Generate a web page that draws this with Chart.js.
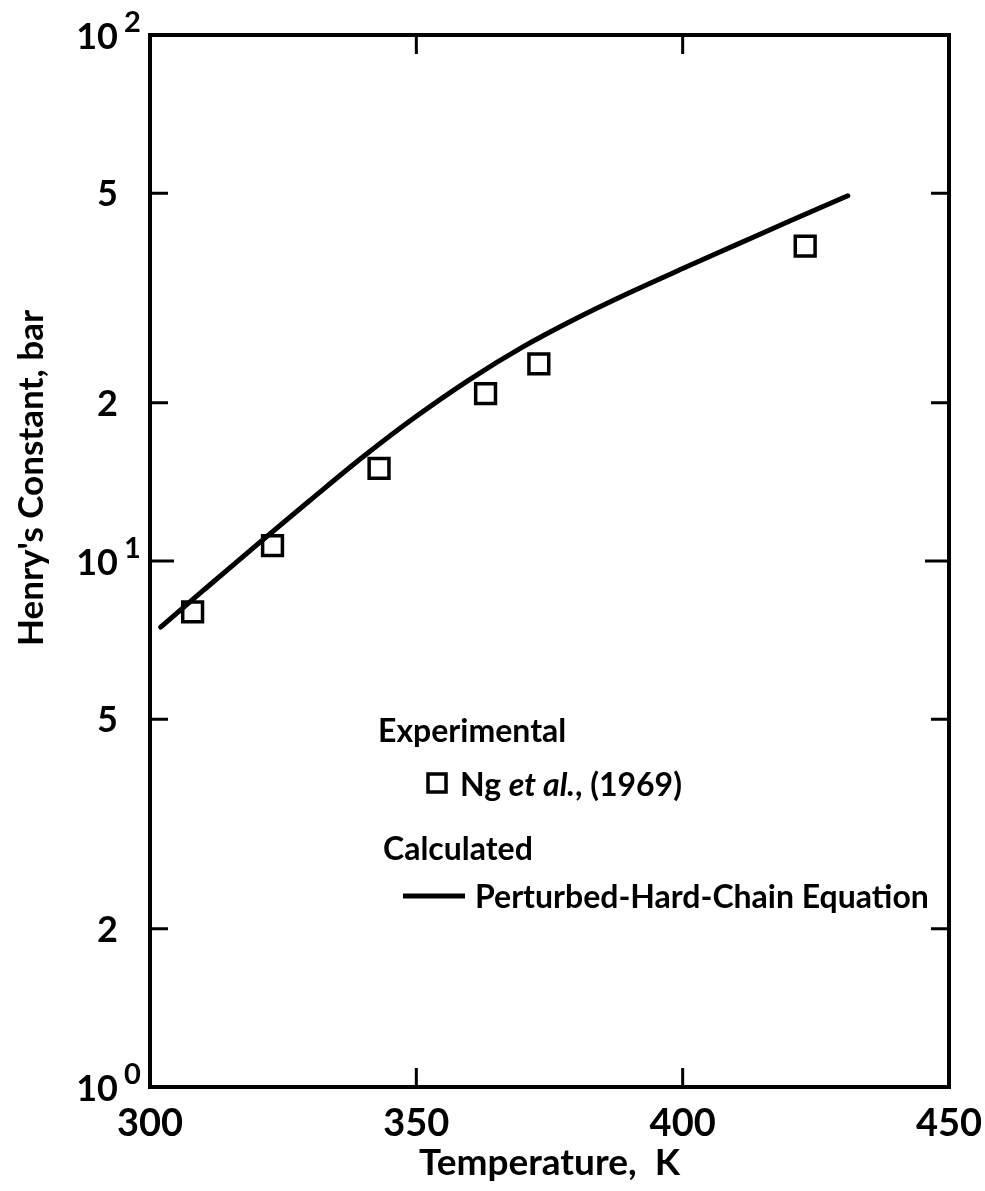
<!DOCTYPE html>
<html>
<head>
<meta charset="utf-8">
<script src="https://cdn.jsdelivr.net/npm/chart.js@4.4.1/dist/chart.umd.min.js"></script>
<style>
html,body{margin:0;padding:0;background:#fff;}
#wrap{width:985px;height:1191px;position:relative;}
canvas{display:block;}
</style>
</head>
<body>
<div id="wrap"><canvas id="c" width="985" height="1191"></canvas></div>
<script>
// ---- data ----
const expTemps = [308, 323, 343, 363, 373, 423];
const expHenry = [8.0, 10.7, 15.0, 20.8, 23.7, 39.7];
const calcTemps = [302, 310, 320, 330, 340, 350, 360, 370, 380, 390, 400, 410, 420, 431];
const calcHenry = [7.49, 8.79, 10.72, 13.03, 15.78, 18.84, 22.13, 25.53, 28.91, 32.36, 35.97, 39.90, 44.26, 49.48];
const xTickValues = [300, 350, 400, 450];
const xInnerTicks = [350, 400];
const yTickValues = [1, 2, 5, 10, 20, 50, 100];
const yTickBase = ["10", "2", "5", "10", "2", "5", "10"];
const yTickExp = ["0", "", "", "1", "", "", "2"];
const yInnerTicks = [2, 5, 10, 20, 50];
const xTitle = "Temperature,  K";
const yTitle = "Henry's Constant, bar";
const legendHeadExp = "Experimental";
const legendHeadCalc = "Calculated";
const legendExpParts = ["Ng ", "et al.", ", (1969)"];
const legendCalc = "Perturbed-Hard-Chain Equation";

const FONT = 'Lato, "DejaVu Sans", sans-serif';

const decorPlugin = {
  id: 'decor',
  afterDraw(chart) {
    const {ctx, chartArea: a, scales: {x, y}} = chart;
    ctx.save();
    ctx.strokeStyle = '#000';
    ctx.fillStyle = '#000';
    // top and right frame
    ctx.lineWidth = 4;
    ctx.beginPath();
    ctx.moveTo(a.left - 2, a.top);
    ctx.lineTo(a.right + 2, a.top);
    ctx.moveTo(a.right, a.top);
    ctx.lineTo(a.right, a.bottom + 2);
    ctx.stroke();
    // inward ticks
    ctx.lineWidth = 3;
    ctx.beginPath();
    xInnerTicks.forEach(v => {
      const px = x.getPixelForValue(v);
      ctx.moveTo(px, a.bottom); ctx.lineTo(px, a.bottom - 19);
      ctx.moveTo(px, a.top); ctx.lineTo(px, a.top + 19);
    });
    yInnerTicks.forEach(v => {
      const py = y.getPixelForValue(v);
      const L = (v === 10) ? 24 : 18;
      ctx.moveTo(a.left, py); ctx.lineTo(a.left + L, py);
      ctx.moveTo(a.right, py); ctx.lineTo(a.right - L, py);
    });
    ctx.stroke();

    // y tick labels
    ctx.textBaseline = 'alphabetic';
    yTickValues.forEach((v, i) => {
      const py = y.getPixelForValue(v);
      ctx.textAlign = 'right';
      ctx.font = 'bold 36px ' + FONT;
      ctx.fillText(yTickBase[i], a.left - 32, py + (yTickExp[i] ? 14 : 13));
      if (yTickExp[i]) {
        ctx.textAlign = 'left';
        ctx.font = 'bold 29px ' + FONT;
        ctx.fillText(yTickExp[i], a.left - 26, py - 3);
      }
    });

    // y title
    ctx.save();
    ctx.translate(43, 478);
    ctx.rotate(-Math.PI / 2);
    ctx.textAlign = 'center';
    ctx.textBaseline = 'alphabetic';
    ctx.font = 'bold 35px ' + FONT;
    ctx.fillText(yTitle, 0, 0);
    ctx.restore();

    // legend block
    ctx.textAlign = 'left';
    ctx.textBaseline = 'alphabetic';
    ctx.font = 'bold 32px ' + FONT;
    ctx.fillText(legendHeadExp, 378, 742);
    ctx.fillText(legendHeadCalc, 383, 860);
    // marker
    ctx.lineWidth = 3.5;
    ctx.strokeRect(428, 774, 18, 18);
    let cx = 460;
    ctx.font = 'bold 32px ' + FONT;
    ctx.fillText(legendExpParts[0], cx, 796);
    cx += ctx.measureText(legendExpParts[0]).width;
    ctx.font = 'italic bold 32px ' + FONT;
    ctx.fillText(legendExpParts[1], cx, 796);
    cx += ctx.measureText(legendExpParts[1]).width;
    ctx.font = 'bold 32px ' + FONT;
    ctx.fillText(legendExpParts[2], cx, 796);
    // line sample
    ctx.lineWidth = 5;
    ctx.beginPath();
    ctx.moveTo(403, 896); ctx.lineTo(465, 896);
    ctx.stroke();
    ctx.fillText(legendCalc, 475, 908);
    ctx.restore();
  }
};

new Chart(document.getElementById('c').getContext('2d'), {
  type: 'scatter',
  data: {
    datasets: [
      {
        label: legendCalc,
        data: calcTemps.map((t, i) => ({x: t, y: calcHenry[i]})),
        showLine: true,
        borderColor: '#000',
        borderWidth: 5,
        borderCapStyle: 'round',
        borderJoinStyle: 'round',
        pointRadius: 0,
        cubicInterpolationMode: 'monotone',
        fill: false
      },
      {
        label: legendExpParts.join(''),
        data: expTemps.map((t, i) => ({x: t, y: expHenry[i]})),
        showLine: false,
        pointStyle: 'rect',
        pointRadius: 14,
        borderColor: '#000',
        borderWidth: 3.5,
        backgroundColor: 'rgba(0,0,0,0)'
      }
    ]
  },
  options: {
    responsive: false,
    animation: false,
    devicePixelRatio: 1,
    layout: {padding: {top: 35, right: 36, left: 0, bottom: 0}},
    plugins: {legend: {display: false}, tooltip: {enabled: false}},
    scales: {
      x: {
        type: 'linear', min: 300, max: 450,
        afterBuildTicks: s => { s.ticks = xTickValues.map(v => ({value: v})); },
        afterFit: s => { s.height = 104; s.paddingLeft = 0; s.paddingRight = 0; },
        grid: {display: false, drawTicks: false},
        border: {display: true, color: '#000', width: 4},
        ticks: {color: '#000', padding: 14, maxRotation: 0, autoSkip: false,
                font: {family: FONT, size: 38, weight: 'bold'}},
        title: {display: true, text: xTitle, color: '#000',
                font: {family: FONT, size: 37, weight: 'bold'}, padding: {top: 0, bottom: 6}}
      },
      y: {
        type: 'logarithmic', min: 1, max: 100,
        afterBuildTicks: s => { s.ticks = yTickValues.map(v => ({value: v})); },
        afterFit: s => { s.width = 150; s.paddingTop = 0; s.paddingBottom = 0; },
        grid: {display: false, drawTicks: false},
        border: {display: true, color: '#000', width: 4},
        ticks: {display: false}
      }
    }
  },
  plugins: [decorPlugin]
});
</script>
</body>
</html>
